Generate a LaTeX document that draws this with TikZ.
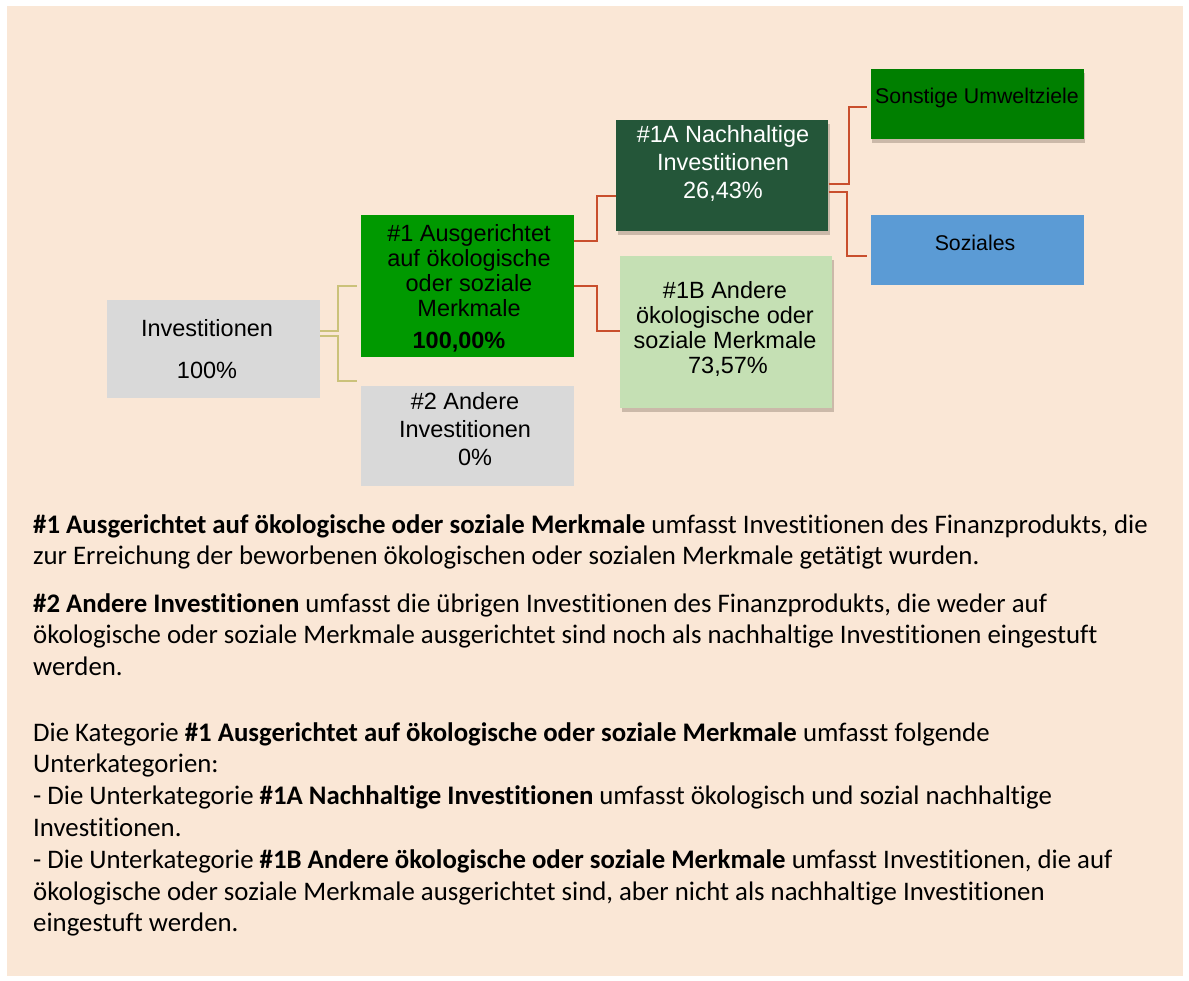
\documentclass[tikz,border=0pt]{standalone}
\usepackage{fontspec}
\setmainfont{Carlito}[Ligatures = NoCommon]
\newfontfamily\boxfont{Liberation Sans}
\usetikzlibrary{positioning,shadows}

\definecolor{bgbeige}{HTML}{FAE7D6}
\definecolor{boxgray}{HTML}{D9D9D9}
\definecolor{esgreen}{HTML}{009900}
\definecolor{darkgreen}{HTML}{245639}
\definecolor{lightgreen}{HTML}{C5E0B4}
\definecolor{envgreen}{HTML}{007F00}
\definecolor{socblue}{HTML}{5B9BD5}
\definecolor{linkolive}{HTML}{CBC27A}
\definecolor{linkred}{HTML}{C94F2D}

\begin{document}
\begin{tikzpicture}[
    x = 1pt, y = -1pt, % pixel grid, y pointing down
    box/.style = {rectangle, inner sep = 0pt, minimum width = 213pt},
    boxtext/.style = {font = \boxfont\fontsize{23.5}{#1}\selectfont, align = center, inner sep = 0pt},
    boxtext/.default = 25,
    smalltext/.style = {font = \boxfont\fontsize{21.3}{24}\selectfont, inner sep = 0pt},
    shade/.style = {drop shadow = {shadow xshift = 1.5pt, shadow yshift = -4pt, opacity = .22, fill = black!80!brown}},
    olivelink/.style = {draw = linkolive, line width = 2pt},
    redlink/.style = {draw = linkred, line width = 2pt},
    para/.style = {anchor = north west, inner sep = 0pt, align = left, font = \fontsize{26.8}{31.8}\selectfont}
    ]

    % page and background
    \useasboundingbox (0,0) rectangle (1189,981);
    \fill[bgbeige] (7,6) rectangle (1183,976);

    % boxes
    \node[box, fill = boxgray, minimum height = 98pt] (inv) at (213.5,349) {};
    \node[box, fill = esgreen, minimum height = 142pt] (es) at (467.5,286) {};
    \node[box, fill = boxgray, minimum height = 100pt] (other) at (467.5,436) {};
    \node[box, shade, fill = darkgreen, minimum width = 212pt, minimum height = 111pt] (sust) at (722.3,175.5) {};
    \node[box, shade, fill = lightgreen, minimum width = 212pt, minimum height = 152pt] (oth-es) at (726.2,332) {};
    \node[box, shade, fill = envgreen, minimum height = 70pt] (env) at (977.4,104.3) {};
    \node[box, fill = socblue, minimum height = 70pt] (soc) at (977.4,250.3) {};

    % box texts
    \node[boxtext = 42] (inv-txt) at (207,349) {Investitionen\\100\%};
    \node[boxtext] (es-txt) at (469,288) {\#1 Ausgerichtet\\auf ökologische\\oder soziale\\Merkmale\\[6.7pt]\hspace*{-20pt}\textbf{100,00\%}};
    \node[boxtext = 28] (other-txt) at (465,429) {\#2 Andere\\Investitionen\\\hspace*{20pt}0\%};
    \node[boxtext = 28, text = white] (sust-txt) at (723,163) {\#1A Nachhaltige\\Investitionen\\26,43\%};
    \node[boxtext] (oth-es-txt) at (725,329) {\#1B Andere\\ökologische oder\\soziale Merkmale\\\hspace*{6pt}73,57\%};
    \node[smalltext] (env-txt) at (977,97.7) {Sonstige Umweltziele};
    \node[smalltext] (soc-txt) at (975,243.3) {Soziales};

    % connectors
    \draw[olivelink] ([yshift = 18.3pt]inv.east) -- ++(18,0) |- ([xshift = -4pt]es.west);
    \draw[olivelink] ([yshift = 13.3pt]inv.east) -- ++(18,0) |- ([xshift = -4pt, yshift = 55.3pt]other.west);
    \draw[redlink] ([yshift = 45.3pt]es.east) -- ++(23,0) |- ([yshift = -20.2pt]sust.west);
    \draw[redlink] (es.east) -- ++(23,0) |- ([yshift = 1.3pt]oth-es.west);
    \draw[redlink] ([yshift = -8.8pt]sust.east) -- ++(20,0) |- ([xshift = -4pt, yshift = -3pt]env.west);
    \draw[redlink] ([yshift = -16.8pt]sust.east) -- ++(18,0) |- ([xshift = -4pt, yshift = -5.4pt]soc.west);

    % explanations
    \node[para] (def-es) at (33,514) {\textbf{\#1 Ausgerichtet auf ökologische oder soziale Merkmale} umfasst Investitionen des Finanzprodukts, die\\
        zur Erreichung der beworbenen ökologischen oder sozialen Merkmale getätigt wurden.};
    \node[para] (def-other) at (33,593) {\textbf{\#2 Andere Investitionen} umfasst die übrigen Investitionen des Finanzprodukts, die weder auf\\
        ökologische oder soziale Merkmale ausgerichtet sind noch als nachhaltige Investitionen eingestuft\\
        werden.};
    \node[para] (def-sub) at (33,722) {Die Kategorie \textbf{\#1 Ausgerichtet auf ökologische oder soziale Merkmale} umfasst folgende\\
        Unterkategorien:\\
        - Die Unterkategorie \textbf{\#1A Nachhaltige Investitionen} umfasst ökologisch und sozial nachhaltige\\
        Investitionen.\\
        - Die Unterkategorie \textbf{\#1B Andere ökologische oder soziale Merkmale} umfasst Investitionen, die auf\\
        ökologische oder soziale Merkmale ausgerichtet sind, aber nicht als nachhaltige Investitionen\\
        eingestuft werden.};
\end{tikzpicture}
\end{document}
